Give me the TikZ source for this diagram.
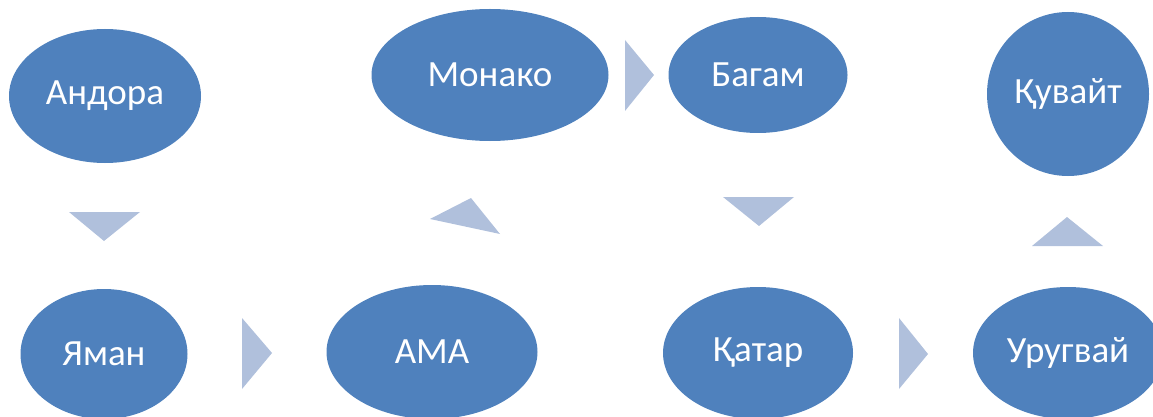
\documentclass[tikz,border=0pt]{standalone}
\usepackage{fontspec}
\setmainfont{Carlito}
\usetikzlibrary{shapes.geometric}
\definecolor{nodeblue}{RGB}{79,129,189}
\definecolor{arrowblue}{RGB}{176,192,220}
\tikzset{
  country/.style={ellipse, fill=nodeblue, draw=none, inner sep=0pt, text=white,
    font=\fontsize{37}{42}\selectfont},
  flowtri/.style={fill=arrowblue, draw=none}
}
\begin{document}
\begin{tikzpicture}[x=1pt,y=-1pt]
\useasboundingbox (0,0) rectangle (1153,417);
\clip (0,0) rectangle (1153,417);
\node[country, minimum width=192pt, minimum height=134pt] (andora) at (105,96) {Андора};
\node[country, minimum width=237pt, minimum height=132pt] (monako) at (490,75) {Монако};
\node[country, minimum width=179pt, minimum height=116pt] (bagam) at (758,75) {Багам};
\node[country, minimum width=162pt, minimum height=164pt] (kuvait) at (1068,94) {Қувайт};
\node[country, minimum width=167pt, minimum height=130pt] (yaman) at (104,354) {Яман};
\node[country, minimum width=211pt, minimum height=134pt] (ama) at (432,352) {АМА};
\node[country, minimum width=190pt, minimum height=132pt] (katar) at (758,353) {Қатар};
\node[country, minimum width=190pt, minimum height=132pt] (urugvai) at (1068,353) {Уругвай};
% arrows
\fill[flowtri] (69,212) -- (140,212) -- (104,241) -- cycle;
\fill[flowtri] (242,318) -- (272,353) -- (242,389) -- cycle;
\fill[flowtri] (430,219) -- (471,198) -- (500,234) -- cycle;
\fill[flowtri] (625,40) -- (654,75) -- (625,111) -- cycle;
\fill[flowtri] (723,197) -- (794,197) -- (759,226) -- cycle;
\fill[flowtri] (899,318) -- (928,354) -- (899,389) -- cycle;
\fill[flowtri] (1032,246) -- (1103,246) -- (1067,217) -- cycle;
\end{tikzpicture}
\end{document}
